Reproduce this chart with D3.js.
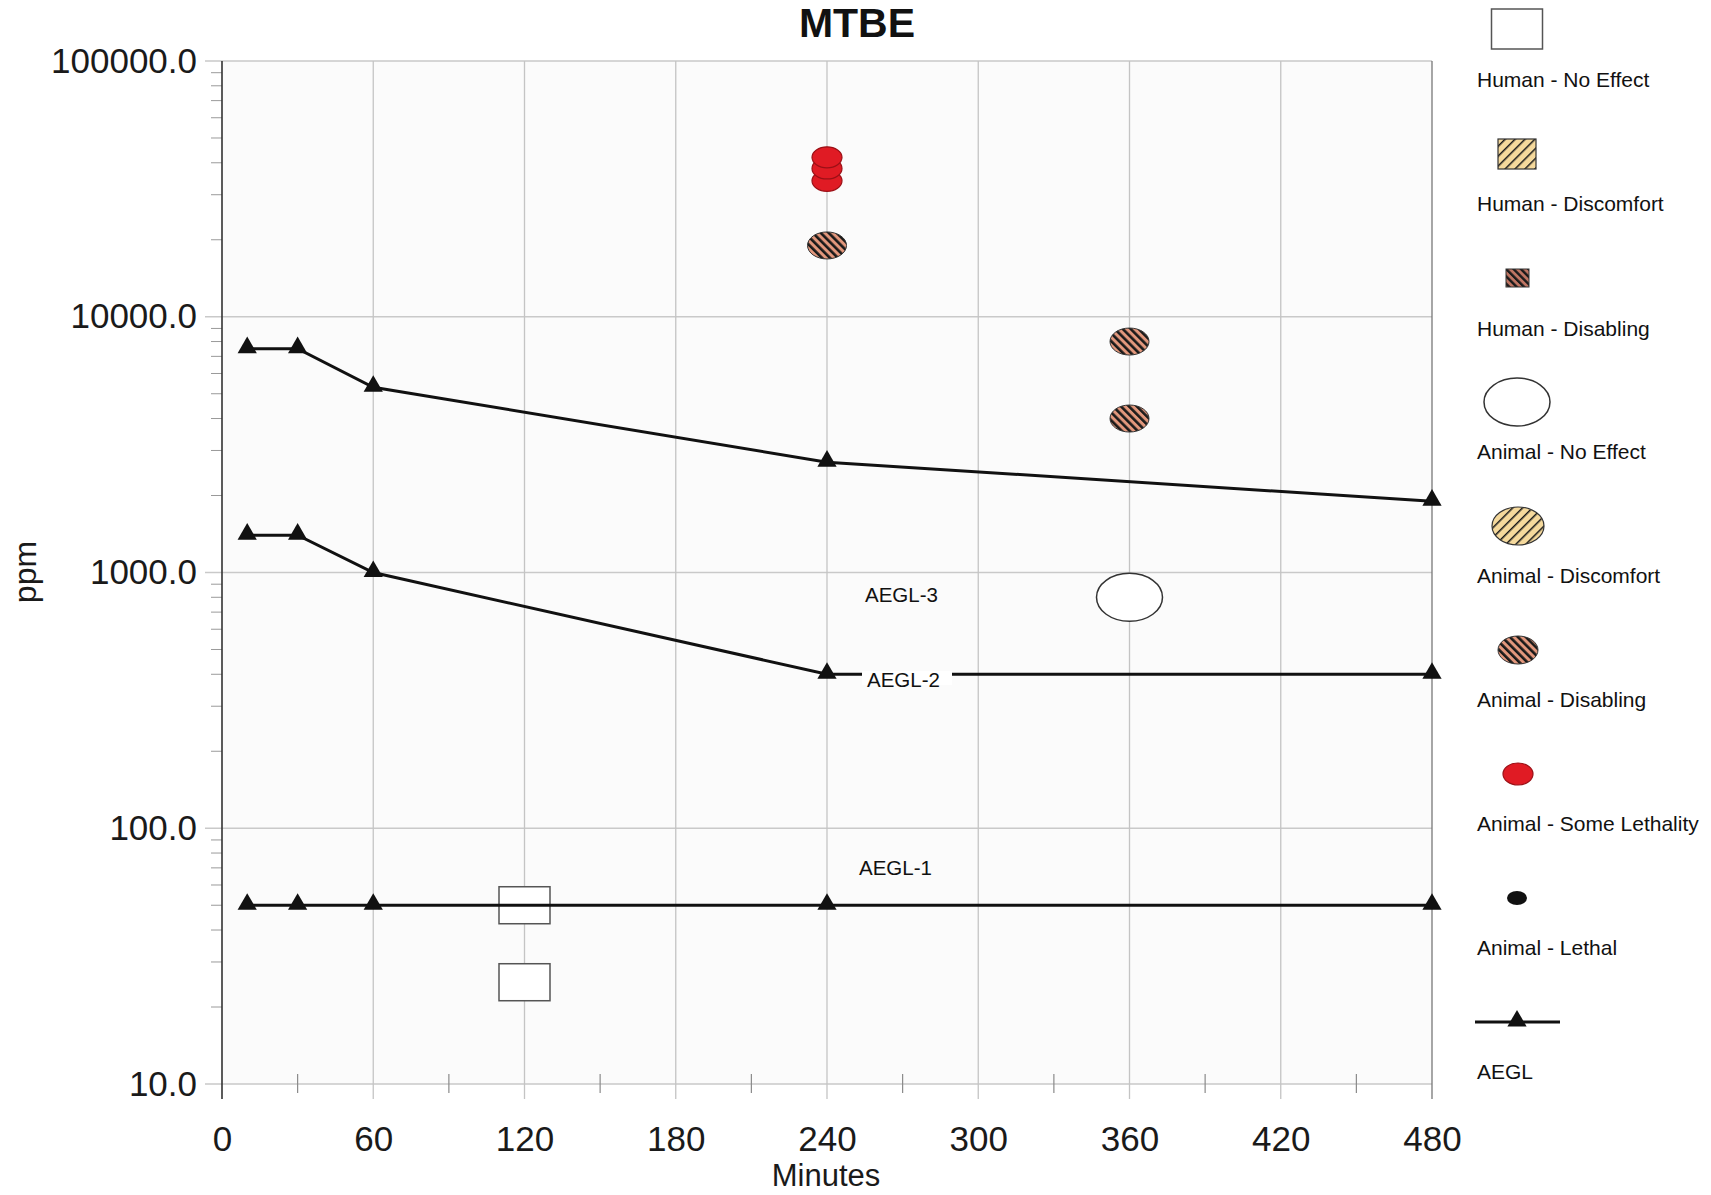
<!DOCTYPE html>
<html>
<head>
<meta charset="utf-8">
<title>MTBE</title>
<script src="https://cdn.jsdelivr.net/npm/d3@7"></script>
<style>
  html, body { margin: 0; padding: 0; background: #ffffff; }
  svg { display: block; font-family: "Liberation Sans", Arial, Helvetica, sans-serif; }
</style>
</head>
<body>
<svg id="chart" width="1711" height="1195"></svg>
<script>
// ---- data ----
const xTicks = [0, 60, 120, 180, 240, 300, 360, 420, 480];
const yTicks = [10, 100, 1000, 10000, 100000];

// AEGL values (ppm) at the standard exposure durations (minutes)
const aeglTimes = [10, 30, 60, 240, 480];
const aegl1 = [50, 50, 50, 50, 50];
const aegl2 = [1400, 1400, 1000, 400, 400];
const aegl3 = [7500, 7500, 5300, 2700, 1900];

// toxicity observations: [minutes, ppm]
const humanNoEffect = [[120, 50], [120, 25]];
const animalNoEffect = [[360, 800]];
const animalDisabling = [[240, 19000], [360, 8000], [360, 4000]];
const animalSomeLethality = [[240, 34000], [240, 38000], [240, 42000]];

const legendLabels = [
  "Human - No Effect", "Human - Discomfort", "Human - Disabling",
  "Animal - No Effect", "Animal - Discomfort", "Animal - Disabling",
  "Animal - Some Lethality", "Animal - Lethal", "AEGL"
];

// ---- layout ----
const svg = d3.select("#chart");
const plotLeft = 222, plotRight = 1432, plotTop = 61, plotBottom = 1084;
const x = d3.scaleLinear().domain([0, 480]).range([plotLeft, plotRight]);
const y = d3.scaleLog().domain([10, 100000]).range([plotBottom, plotTop]);

// ---- fill patterns ----
const defs = svg.append("defs");
function stripes(id, bg, fg, period, bar, angle) {
  const p = defs.append("pattern")
    .attr("id", id).attr("patternUnits", "userSpaceOnUse")
    .attr("width", period).attr("height", period)
    .attr("patternTransform", `rotate(${angle})`);
  p.append("rect").attr("width", period).attr("height", period).attr("fill", bg);
  p.append("rect").attr("width", bar).attr("height", period).attr("fill", fg);
}
stripes("disabling", "#e2977c", "#1a1a1a", 5.6, 2.6, -45);
stripes("humanDisabling", "#bf7563", "#1a1a1a", 5.2, 2.4, -45);
stripes("discomfort", "#f5d99c", "#1a1a1a", 7, 1.5, 45);

// ---- plot background & grid ----
svg.append("rect").attr("x", plotLeft).attr("y", plotTop)
  .attr("width", plotRight - plotLeft).attr("height", plotBottom - plotTop)
  .attr("fill", "#fbfbfb");

const grid = svg.append("g");
grid.selectAll("line.h").data(yTicks).join("line")
  .attr("x1", plotLeft - 17).attr("x2", plotRight)
  .attr("y1", d => y(d)).attr("y2", d => y(d))
  .attr("stroke", "#c9c9c9").attr("stroke-width", 1.3);
grid.selectAll("line.v").data(xTicks.slice(1)).join("line")
  .attr("x1", d => x(d)).attr("x2", d => x(d))
  .attr("y1", plotTop).attr("y2", plotBottom + 15)
  .attr("stroke", d => d === 480 ? "#777" : "#c4c4c4")
  .attr("stroke-width", 1.3);

// minor log ticks on the value axis
const minorY = [];
yTicks.slice(0, -1).forEach(d => { for (let k = 2; k <= 9; k++) minorY.push(d * k); });
grid.selectAll("line.my").data(minorY).join("line")
  .attr("x1", plotLeft - 11).attr("x2", plotLeft)
  .attr("y1", d => y(d)).attr("y2", d => y(d))
  .attr("stroke", "#9a9a9a").attr("stroke-width", 1);

// minor ticks every 30 minutes
const minorX = d3.range(30, 480, 60);
grid.selectAll("line.mx").data(minorX).join("line")
  .attr("x1", d => x(d)).attr("x2", d => x(d))
  .attr("y1", plotBottom - 10).attr("y2", plotBottom + 9)
  .attr("stroke", "#8a8a8a").attr("stroke-width", 1.2);

// vertical axis line
svg.append("line").attr("x1", plotLeft).attr("x2", plotLeft)
  .attr("y1", plotTop).attr("y2", plotBottom + 15)
  .attr("stroke", "#333").attr("stroke-width", 1.6);

// ---- axes labels ----
const yAxis = d3.axisLeft(y).tickValues(yTicks)
  .tickFormat(d3.format(".1f")).tickSize(17).tickPadding(8);
const gy = svg.append("g").attr("transform", `translate(${plotLeft},0)`).call(yAxis);
gy.select(".domain").remove();
gy.selectAll(".tick line").remove();
gy.selectAll("text").attr("font-size", 35).attr("fill", "#1a1a1a")
  .attr("font-family", "'Liberation Sans', Arial, sans-serif");

const xAxis = d3.axisBottom(x).tickValues(xTicks).tickSize(15).tickPadding(27);
const gx = svg.append("g").attr("transform", `translate(0,${plotBottom})`).call(xAxis);
gx.select(".domain").remove();
gx.selectAll(".tick line").remove();
gx.selectAll("text").attr("font-size", 35).attr("fill", "#1a1a1a")
  .attr("font-family", "'Liberation Sans', Arial, sans-serif");

svg.append("text").attr("x", 826).attr("y", 1186)
  .attr("text-anchor", "middle").attr("font-size", 31).attr("fill", "#1a1a1a")
  .text("Minutes");

svg.append("text").attr("transform", "translate(36,572) rotate(-90)")
  .attr("text-anchor", "middle").attr("font-size", 32).attr("fill", "#1a1a1a")
  .text("ppm");

svg.append("text").attr("x", 857).attr("y", 37)
  .attr("text-anchor", "middle").attr("font-size", 41).attr("font-weight", "bold")
  .attr("fill", "#111").text("MTBE");

// ---- observation markers ----
const marks = svg.append("g");

marks.selectAll("rect.hne").data(humanNoEffect).join("rect")
  .attr("x", d => x(d[0]) - 25.5).attr("y", d => y(d[1]) - 18.5)
  .attr("width", 51).attr("height", 37)
  .attr("fill", "#ffffff").attr("stroke", "#555").attr("stroke-width", 1.5);

marks.selectAll("ellipse.ane").data(animalNoEffect).join("ellipse")
  .attr("cx", d => x(d[0])).attr("cy", d => y(d[1]))
  .attr("rx", 33).attr("ry", 24)
  .attr("fill", "#ffffff").attr("stroke", "#333").attr("stroke-width", 1.5);

marks.selectAll("ellipse.ad").data(animalDisabling).join("ellipse")
  .attr("cx", d => x(d[0])).attr("cy", d => y(d[1]))
  .attr("rx", 19.5).attr("ry", 13.5)
  .attr("fill", "url(#disabling)").attr("stroke", "#333").attr("stroke-width", 1);

marks.selectAll("ellipse.asl").data(animalSomeLethality).join("ellipse")
  .attr("cx", d => x(d[0])).attr("cy", d => y(d[1]))
  .attr("rx", 15).attr("ry", 10.5)
  .attr("fill", "#e01b24").attr("stroke", "#9b1016").attr("stroke-width", 1.2);

// ---- AEGL lines ----
const aeglSets = [aegl1, aegl2, aegl3];
const line = d3.line().x(d => x(d[0])).y(d => y(d[1]));
const tri = d3.symbol().type(d3.symbolTriangle).size(160);

aeglSets.forEach(vals => {
  const pts = aeglTimes.map((t, i) => [t, vals[i]]);
  svg.append("path").datum(pts).attr("d", line)
    .attr("fill", "none").attr("stroke", "#111").attr("stroke-width", 3);
  svg.append("g").selectAll("path").data(pts).join("path")
    .attr("d", tri).attr("transform", d => `translate(${x(d[0])},${y(d[1]) - 1})`)
    .attr("fill", "#111");
});

// line annotations
svg.append("text").attr("x", 865).attr("y", 602).attr("font-size", 20.5)
  .attr("fill", "#111").text("AEGL-3");
svg.append("rect").attr("x", 862).attr("y", 671).attr("width", 90).attr("height", 14)
  .attr("fill", "#ffffff");
svg.append("text").attr("x", 867).attr("y", 687).attr("font-size", 20.5)
  .attr("fill", "#111").text("AEGL-2");
svg.append("text").attr("x", 859).attr("y", 875).attr("font-size", 20.5)
  .attr("fill", "#111").text("AEGL-1");

// ---- legend ----
const legend = svg.append("g");
const legendX = 1477, symX = 1517;
const labelY = [87, 211, 336, 459, 583, 707, 831, 955, 1079];
legend.selectAll("text").data(legendLabels).join("text")
  .attr("x", legendX).attr("y", (d, i) => labelY[i])
  .attr("font-size", 21).attr("fill", "#111").text(d => d);

legend.append("rect").attr("x", symX - 25.5).attr("y", 9).attr("width", 51).attr("height", 40)
  .attr("fill", "#fff").attr("stroke", "#555").attr("stroke-width", 1.5);
legend.append("rect").attr("x", symX - 19).attr("y", 139).attr("width", 38).attr("height", 30)
  .attr("fill", "url(#discomfort)").attr("stroke", "#333").attr("stroke-width", 1.2);
legend.append("rect").attr("x", symX - 11).attr("y", 269).attr("width", 23).attr("height", 18)
  .attr("fill", "url(#humanDisabling)").attr("stroke", "#333").attr("stroke-width", 1);
legend.append("ellipse").attr("cx", symX).attr("cy", 402).attr("rx", 33).attr("ry", 24)
  .attr("fill", "#fff").attr("stroke", "#333").attr("stroke-width", 1.5);
legend.append("ellipse").attr("cx", symX + 1).attr("cy", 526).attr("rx", 26).attr("ry", 19)
  .attr("fill", "url(#discomfort)").attr("stroke", "#333").attr("stroke-width", 1.2);
legend.append("ellipse").attr("cx", symX + 1).attr("cy", 650).attr("rx", 20).attr("ry", 14)
  .attr("fill", "url(#disabling)").attr("stroke", "#333").attr("stroke-width", 1);
legend.append("ellipse").attr("cx", symX + 1).attr("cy", 774).attr("rx", 15).attr("ry", 11)
  .attr("fill", "#e01b24").attr("stroke", "#9b1016").attr("stroke-width", 1.2);
legend.append("ellipse").attr("cx", symX).attr("cy", 898).attr("rx", 10).attr("ry", 7)
  .attr("fill", "#111");
legend.append("line").attr("x1", 1475).attr("x2", 1560).attr("y1", 1022).attr("y2", 1022)
  .attr("stroke", "#111").attr("stroke-width", 3);
legend.append("path").attr("d", tri).attr("transform", `translate(${symX},1021)`)
  .attr("fill", "#111");
</script>
</body>
</html>
